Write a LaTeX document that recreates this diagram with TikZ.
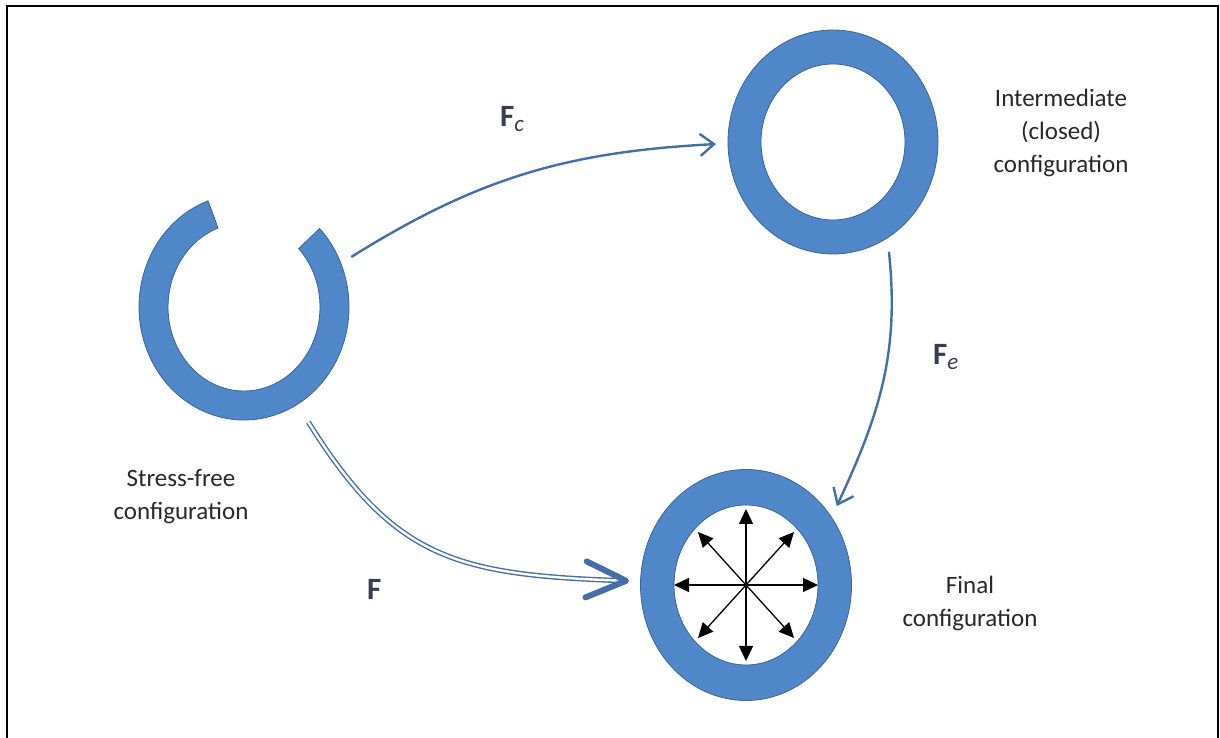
\documentclass[tikz,border=0pt]{standalone}
\usepackage{fontspec}
\setmainfont{Carlito}
\usetikzlibrary{positioning,calc,arrows.meta,shapes.geometric}
\definecolor{ringblue}{RGB}{80,135,200}
\definecolor{ringedge}{RGB}{60,100,150}
\definecolor{flowblue}{RGB}{68,110,165}
\definecolor{lblgray}{RGB}{40,40,40}
\definecolor{fgray}{RGB}{55,62,82}
\newcommand{\Fsub}[1]{\textbf{F}\raisebox{-5pt}{\fontsize{23}{23}\selectfont\itshape #1}}

\begin{document}
\begin{tikzpicture}[
    x=1pt, y=1pt,
    hull/.style={ellipse, minimum width=210pt, minimum height=226pt, inner sep=0pt, outer sep=12pt},
    ring/.style={fill=ringblue, draw=ringedge, line width=0.8pt, even odd rule},
    flow/.style={draw=flowblue, line width=2.4pt, -{Straight Barb[length=14pt, width=22pt]}},
    dflow/.style={draw=flowblue, double, double distance=2.4pt, line width=1.4pt,
                  -{Straight Barb[length=40pt, width=36pt, line width=6pt, round]}},
    spoke/.style={line width=1.3pt, -{Triangle[length=15pt, width=14pt]}},
    captxt/.style={font=\fontsize{25}{33}\selectfont, text=lblgray, align=center, inner sep=0pt, anchor=north},
    flbl/.style={font=\fontsize{31}{31}\selectfont, text=fgray, inner sep=0pt, anchor=base west},
  ]
    \useasboundingbox (0,0) rectangle (1220,738);
    \draw[line width=2pt] (6.7,-5) |- (1218.3,731.5) -- (1218.3,-5);

    \node[hull] (open)   at (244,431) {};
    \node[hull] (closed) at (833,596) {};
    \node[hull] (final)  at (746,153) {};

    \path[ring] ([shift={(110:105 and 113)}]open.center)
      arc[start angle=110, end angle=404, x radius=105, y radius=113]
      -- ([shift={(404:76 and 84)}]open.center)
      arc[start angle=404, end angle=110, x radius=76, y radius=84] -- cycle;
    \path[ring] (closed.center) ellipse[x radius=105, y radius=112]
      (closed.center) ellipse[x radius=72, y radius=78];
    \path[ring] (final.center) ellipse[x radius=105.5, y radius=115.5]
      (final.center) ellipse[x radius=72, y radius=80];

    \foreach \dx/\dy in {0/76, 0/-76, 72/0, -72/0, 48/53, -48/53, 48/-53, -48/-53}
      \draw[spoke] (final.center) -- ++(\dx,\dy);

    \draw[flow] (open.25) to[out=32, in=183] (closed.181);
    \draw[flow] (closed.-63) to[out=-84, in=65] (final.41);
    \draw[dflow, shorten <=9pt] (open.-61) to[out=-58, in=178, looseness=1.2] (final.178);

    \node[flbl] (fc) at (500,611) {\Fsub{c}};
    \node[flbl] (fe) at (933,373) {\Fsub{e}};
    \node[flbl] (f)  at (367,138) {\textbf{F}};
    \node[captxt] (lopen)   at (181,269) {Stress-free\\configuration};
    \node[captxt] (lclosed) at (1061,649) {Intermediate\\(closed)\\configuration};
    \node[captxt] (lfinal)  at (970,162) {Final\\configuration};
\end{tikzpicture}
\end{document}
